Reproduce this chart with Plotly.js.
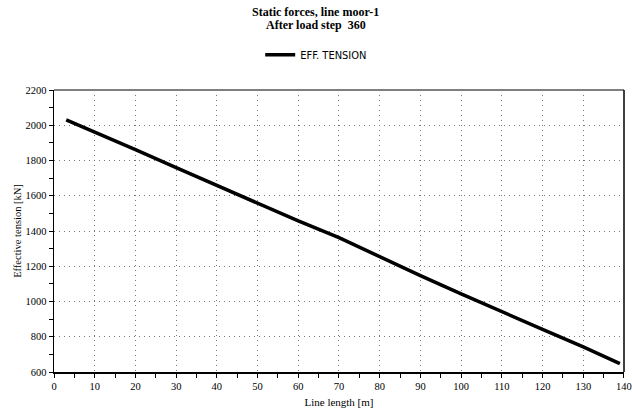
<!DOCTYPE html>
<html>
<head>
<meta charset="utf-8">
<script src="https://cdn.plot.ly/plotly-3.0.1.min.js"></script>
<style>html,body{margin:0;padding:0;background:#fff;}#chart{width:632px;height:414px;}</style>
</head>
<body>
<div id="chart"></div>
<script>
var lineLength = [3, 10, 20, 30, 40, 50, 60, 70, 80, 90, 100, 110, 120, 130, 139];
var effTension = [2030, 1963, 1862, 1760, 1658, 1557, 1457, 1362, 1252, 1147, 1043, 940, 842, 742, 648];
var seriesName = 'EFF. TENSION';
var xTicks = [0, 10, 20, 30, 40, 50, 60, 70, 80, 90, 100, 110, 120, 130, 140];
var yTicks = [600, 800, 1000, 1200, 1400, 1600, 1800, 2000, 2200];
var titleLines = ['Static forces, line moor-1', 'After load step  360'];

var serif = 'Liberation Serif, Times New Roman, serif';
var trace = {
  x: lineLength, y: effTension, name: seriesName,
  type: 'scatter', mode: 'lines',
  line: {color: '#000000', width: 3.5}
};
var layout = {
  width: 632, height: 414,
  margin: {l: 54, r: 8, t: 90, b: 42},
  paper_bgcolor: '#ffffff', plot_bgcolor: '#ffffff',
  showlegend: true,
  legend: {
    orientation: 'h', x: 0.46, xanchor: 'center', y: 1.125, yanchor: 'middle',
    font: {family: 'DejaVu Sans Condensed, DejaVu Sans, sans-serif', size: 11, color: '#000000'}
  },
  xaxis: {
    range: [0, 140.01], tickvals: xTicks, ticktext: xTicks.map(String),
    ticklabeloverflow: 'allow',
    showgrid: true, gridcolor: '#777777', griddash: '1px,4px', gridwidth: 1,
    showline: true, linecolor: '#000000', linewidth: 1.5,
    ticks: 'outside', ticklen: 4, tickcolor: '#000000',
    minor: {dtick: 5, ticks: 'outside', ticklen: 4, tickcolor: '#000000', showgrid: false},
    tickfont: {family: serif, size: 10.5, color: '#000000'},
    zeroline: false,
    title: {text: 'Line length [m]', font: {family: serif, size: 11, color: '#000000'}, standoff: 7}
  },
  yaxis: {
    range: [600, 2200], tickvals: yTicks, ticktext: yTicks.map(String),
    showgrid: true, gridcolor: '#777777', griddash: '1px,4px', gridwidth: 1,
    showline: true, linecolor: '#000000', linewidth: 1.5,
    ticks: 'outside', ticklen: 4, tickcolor: '#000000',
    minor: {dtick: 100, ticks: 'outside', ticklen: 4, tickcolor: '#000000', showgrid: false},
    tickfont: {family: serif, size: 10.5, color: '#000000'},
    zeroline: false,
    title: {text: 'Effective tension [kN]', font: {family: serif, size: 10.5, color: '#000000'}, standoff: 1}
  },
  annotations: [
    {text: '<b>' + titleLines[0] + '</b>',
     xref: 'paper', yref: 'paper', x: 0.459, y: (372 - 12) / 282, xanchor: 'center', yanchor: 'middle',
     showarrow: false, font: {family: serif, size: 12, color: '#000000'}},
    {text: '<b>' + titleLines[1] + '</b>',
     xref: 'paper', yref: 'paper', x: 0.459, y: (372 - 25) / 282, xanchor: 'center', yanchor: 'middle',
     showarrow: false, font: {family: serif, size: 12, color: '#000000'}}
  ],
  shapes: [
    {type: 'line', xref: 'paper', yref: 'paper', x0: 0, x1: 1, y0: 1, y1: 1, line: {color: '#808080', width: 2}},
    {type: 'line', xref: 'paper', yref: 'paper', x0: 1, x1: 1, y0: 0, y1: 1, line: {color: '#000000', width: 1.5}}
  ]
};
Plotly.newPlot('chart', [trace], layout, {displayModeBar: false, staticPlot: true});
</script>
</body>
</html>
